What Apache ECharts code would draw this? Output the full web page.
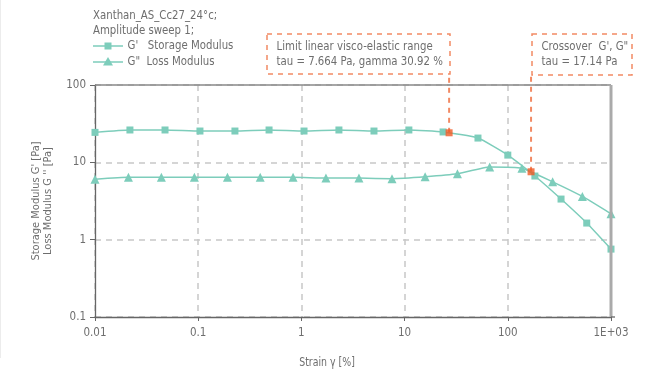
<!DOCTYPE html>
<html><head><meta charset="utf-8">
<script src="https://cdn.jsdelivr.net/npm/echarts@6/dist/echarts.min.js"></script>
<style>html,body{margin:0;padding:0;background:#fff}#c{width:662px;height:373px}</style>
</head><body><div id="c"></div>
<script>
const FONT = '"DejaVu Sans Condensed","Liberation Sans Narrow",sans-serif';
const TXT = '#6e6e6e';
const TEAL = '#7dcdbb';
const ORANGE = '#f28a64';
const RED = '#f05a24';
const SX = 0.87;

const titleLines = ['Xanthan_AS_Cc27_24°c;', 'Amplitude sweep 1;'];
const seriesNames = ["G'   Storage Modulus", 'G"  Loss Modulus'];
const xTickLabels = {'0.01':'0.01','0.1':'0.1','1':'1','10':'10','100':'100','1000':'1E+03'};
const yTickLabels = {'0.1':'0.1','1':'1','10':'10','100':'100'};
const xAxisName = 'Strain γ [%]';
const yAxisName = "Storage Modulus G' [Pa]\nLoss Modulus G '' [Pa]";

const gStorageStrain = [0.01,0.0218,0.0477,0.104,0.227,0.486,1.06,2.31,5.05,11.0,23.6,51.4,100,183,328,582,1000];
const gStorage       = [24.4,26.2,26.2,25.4,25.4,26.2,25.4,26.2,25.4,26.2,24.7,20.6,12.4,6.65,3.35,1.64,0.755];
const gLossStrain = [0.01,0.0211,0.044,0.0918,0.192,0.399,0.83,1.73,3.61,7.55,15.8,32.5,66.8,137,272,528,1000];
const gLoss       = [6.05,6.4,6.4,6.4,6.4,6.4,6.4,6.25,6.25,6.15,6.5,7.1,8.7,8.4,5.6,3.62,2.16];

const limitPoint = [27.0, 24.1];
const crossPoint = [168, 7.55];
const connectorTop = 140;

const annotations = [
  {lines:['Limit linear visco-elastic range','tau = 7.664 Pa, gamma 30.92 %'], left:267, top:34, w:183, h:40},
  {lines:['Crossover  G\', G"','tau = 17.14 Pa'], left:532, top:34, w:100, h:41}
];

const zip = (a,b)=>a.map((v,i)=>[v,b[i]]);
const txt = (s, x, y, size) => ({type:'text', x:x, y:y, scaleX:SX, z:11,
  style:{text:s, font:(size||13)+'px '+FONT, fill:TXT, textVerticalAlign:'middle'}});

const chart = echarts.init(document.getElementById('c'), null, {renderer:'canvas'});
const graphic = [];
// faint page edge
graphic.push({type:'line', shape:{x1:0.5,y1:0,x2:0.5,y2:358}, style:{stroke:'#ececec', lineWidth:1}});
// title
graphic.push(txt(titleLines[0], 93, 15.5));
graphic.push(txt(titleLines[1], 93, 31));
// legend
[46, 62].forEach((y,i)=>{
  graphic.push({type:'line', shape:{x1:93,y1:y,x2:123,y2:y}, style:{stroke:TEAL, lineWidth:1.5}, z:11});
  if(i===0) graphic.push({type:'rect', shape:{x:104.5,y:y-3.5,width:7,height:7}, style:{fill:TEAL}, z:12});
  else graphic.push({type:'polygon', shape:{points:[[108,y-5],[103,y+3.5],[113,y+3.5]]}, style:{fill:TEAL}, z:12});
  graphic.push(txt(seriesNames[i], 127.5, y));
});
// annotation boxes
annotations.forEach(a=>{
  graphic.push({type:'rect', shape:{x:a.left, y:a.top, width:a.w, height:a.h},
    style:{fill:'#fff', stroke:ORANGE, lineWidth:1.5, lineDash:[5,5]}, z:10});
  graphic.push(txt(a.lines[0], a.left+9.5, a.top+12.5));
  graphic.push(txt(a.lines[1], a.left+9.5, a.top+27.5));
});
graphic.push({type:'text', x:327, y:363, scaleX:SX, style:{text:xAxisName, font:'12px '+FONT, fill:TXT,
  textAlign:'center', textVerticalAlign:'middle'}});

chart.setOption({
  animation:false,
  backgroundColor:'#fff',
  legend:{show:false, data:seriesNames},
  grid:{left:95, right:51, top:85, bottom:56},
  xAxis:{type:'log', logBase:10, min:0.01, max:1000,
    axisLine:{show:true, onZero:false, lineStyle:{color:'#666', width:1.3}},
    axisTick:{show:true, length:4, lineStyle:{color:'#666'}},
    minorTick:{show:false},
    axisLabel:{color:TXT, fontFamily:FONT, fontSize:11.5, margin:10,
      formatter:v=>xTickLabels[String(+v.toPrecision(6))] ?? ''},
    splitLine:{show:true, lineStyle:{color:'#c8c8c8', type:[6,5], width:1.5}}},
  yAxis:{type:'log', logBase:10, min:0.1, max:100,
    name:yAxisName, nameLocation:'middle', nameGap:41,
    nameTextStyle:{color:TXT, fontFamily:FONT, fontSize:11, lineHeight:12},
    axisLine:{show:true, onZero:false, lineStyle:{color:'#666', width:1.3}},
    axisTick:{show:true, length:5, lineStyle:{color:'#666'}},
    axisLabel:{color:TXT, fontFamily:FONT, fontSize:11.5, margin:9,
      formatter:v=>yTickLabels[String(+v.toPrecision(6))] ?? ''},
    splitLine:{show:true, lineStyle:{color:'#c8c8c8', type:[6,5], width:1.5}}},
  series:[
    {name:seriesNames[0], type:'line', data:zip(gStorageStrain,gStorage), smooth:0.15,
      symbol:'rect', symbolSize:7, color:TEAL, lineStyle:{width:1.5, color:TEAL},
      itemStyle:{color:TEAL}, z:3},
    {name:seriesNames[1], type:'line', data:zip(gLossStrain,gLoss), smooth:0.15,
      symbol:'triangle', symbolSize:9, color:TEAL, lineStyle:{width:1.5, color:TEAL},
      itemStyle:{color:TEAL}, z:3},
    {type:'line', data:[limitPoint,[limitPoint[0],connectorTop]], clip:false, symbol:'none',
      lineStyle:{color:ORANGE, width:2, type:[5,5]}, z:2, silent:true},
    {type:'line', data:[crossPoint,[crossPoint[0],connectorTop]], clip:false, symbol:'none',
      lineStyle:{color:ORANGE, width:2, type:[5,5]}, z:2, silent:true},
    {type:'scatter', data:[limitPoint,crossPoint], symbol:'rect', symbolSize:7,
      itemStyle:{color:RED}, z:5}
  ]
});
// plot frame (top and right edges)
const p0 = chart.convertToPixel({gridIndex:0},[0.01,100]);
const p1 = chart.convertToPixel({gridIndex:0},[1000,0.1]);
chart.setOption({graphic:graphic.concat([
  {type:'line', shape:{x1:p0[0],y1:p0[1],x2:p1[0],y2:p0[1]}, style:{stroke:'#888',lineWidth:1.5}, z:4},
  {type:'line', shape:{x1:p1[0],y1:p0[1],x2:p1[0],y2:p1[1]}, style:{stroke:'#aaa',lineWidth:3}, z:4},
  {type:'line', shape:{x1:p1[0],y1:p1[1],x2:p1[0]+4,y2:p1[1]}, style:{stroke:'#666',lineWidth:1.3}, z:4}
])});
</script></body></html>
